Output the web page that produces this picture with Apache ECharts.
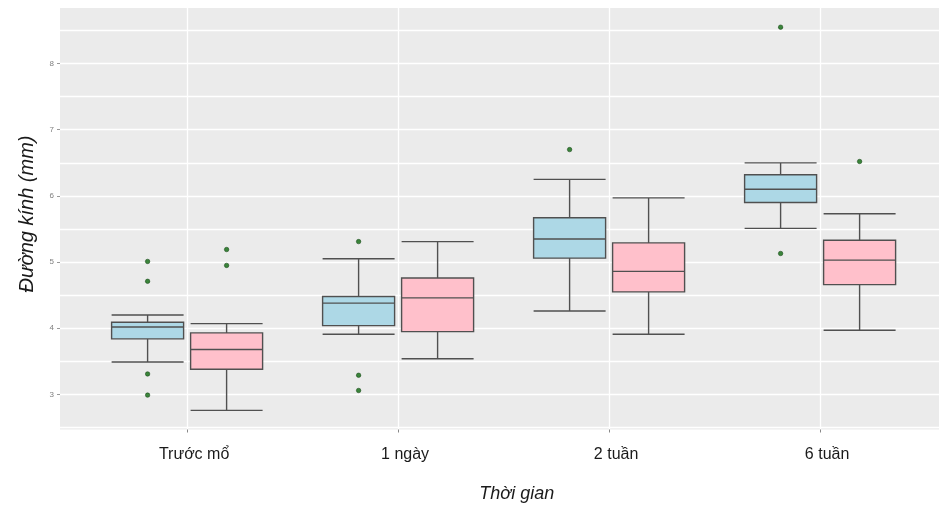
<!DOCTYPE html>
<html>
<head>
<meta charset="utf-8">
<script src="https://cdn.jsdelivr.net/npm/echarts@6/dist/echarts.min.js"></script>
<style>
  html, body { margin: 0; padding: 0; background: #ffffff; }
  #chart { width: 939px; height: 506px; }
</style>
</head>
<body>
<div id="chart"></div>
<script>
// ---- data ----
const categories = ['Trước mổ', '1 ngày', '2 tuần', '6 tuần'];
// [lower whisker, Q1, median, Q3, upper whisker]
const blueBoxes = [
  [3.49, 3.84, 4.02, 4.09, 4.20],
  [3.91, 4.04, 4.38, 4.48, 5.05],
  [4.26, 5.06, 5.35, 5.67, 6.25],
  [5.51, 5.90, 6.10, 6.32, 6.50]
];
const pinkBoxes = [
  [2.76, 3.38, 3.68, 3.93, 4.07],
  [3.54, 3.95, 4.46, 4.76, 5.31],
  [3.91, 4.55, 4.86, 5.29, 5.97],
  [3.97, 4.66, 5.03, 5.33, 5.73]
];
// [category index, value]
const blueOutliers = [
  [0, 5.01], [0, 4.71], [0, 3.31], [0, 2.99],
  [1, 5.31], [1, 3.29], [1, 3.06],
  [2, 6.70],
  [3, 8.55], [3, 5.13]
];
const pinkOutliers = [
  [0, 5.19], [0, 4.95],
  [3, 6.52]
];
const yTickValues = [3, 4, 5, 6, 7, 8];
const xTitle = 'Thời gian';
const yTitle = 'Đường kính (mm)';

// ---- layout ----
const FONT = '"Liberation Sans", Arial, sans-serif';
const W = 939, H = 506;
const PANEL_LEFT = 60, PANEL_TOP = 8, PANEL_BOTTOM = 429.5;
const CAT0 = 187.1, BAND = 211, DODGE = 39.5, BOX_W = 72;

// ggplot-like 5% expansion of the data range
const allVals = [].concat(...blueBoxes, ...pinkBoxes,
  blueOutliers.map(d => d[1]), pinkOutliers.map(d => d[1]));
const dMin = Math.min(...allVals), dMax = Math.max(...allVals);
const Y_MIN = dMin - 0.05 * (dMax - dMin);
const Y_MAX = dMax + 0.05 * (dMax - dMin);
const ppu = (PANEL_BOTTOM - PANEL_TOP) / (Y_MAX - Y_MIN);
const pix = v => PANEL_TOP + (Y_MAX - v) * ppu;

const gridLinesTop = pix(8.5), gridLinesBottom = pix(2.5);
const labTop = pix(yTickValues[yTickValues.length - 1]), labBottom = pix(yTickValues[0]);
const SPAN = BAND * (categories.length - 1);

const hiddenX = (gi) => ({ type: 'category', data: categories, gridIndex: gi, show: false, boundaryGap: false });
const hiddenY = (gi) => ({ type: 'value', min: Y_MIN, max: Y_MAX, gridIndex: gi, show: false });

const option = {
  animation: false,
  backgroundColor: '#ffffff',
  grid: [
    // 0: panel background
    { left: PANEL_LEFT, right: 0, top: PANEL_TOP, bottom: H - PANEL_BOTTOM, show: true,
      backgroundColor: '#EBEBEB', borderWidth: 0 },
    // 1: horizontal grid lines (every 0.5)
    { left: PANEL_LEFT, right: 0, top: gridLinesTop, bottom: H - gridLinesBottom },
    // 2: y tick labels
    { left: PANEL_LEFT, right: 0, top: labTop, bottom: H - labBottom },
    // 3: x labels + vertical grid lines
    { left: CAT0, width: SPAN, top: PANEL_TOP, bottom: H - PANEL_BOTTOM },
    // 4: blue boxes (dodged left)
    { left: CAT0 - DODGE, width: SPAN, top: PANEL_TOP, bottom: H - PANEL_BOTTOM },
    // 5: pink boxes (dodged right)
    { left: CAT0 + DODGE, width: SPAN, top: PANEL_TOP, bottom: H - PANEL_BOTTOM }
  ],
  xAxis: [
    { type: 'value', gridIndex: 0, show: false, min: 0, max: 1 },
    { type: 'value', gridIndex: 1, show: false, min: 0, max: 1 },
    { type: 'value', gridIndex: 2, show: false, min: 0, max: 1 },
    { type: 'category', gridIndex: 3, data: categories, boundaryGap: false,
      axisLine: { show: false },
      axisTick: { show: true, length: 3, lineStyle: { color: '#888888', width: 1 } },
      splitLine: { show: true, lineStyle: { color: '#ffffff', width: 1.3 } },
      axisLabel: { color: '#1a1a1a', fontSize: 16, fontFamily: FONT, margin: 17,
                   padding: [0, 0, 0, 14] } },
    hiddenX(4),
    hiddenX(5)
  ],
  yAxis: [
    { type: 'value', gridIndex: 0, show: false, min: Y_MIN, max: Y_MAX },
    { type: 'value', gridIndex: 1, min: 2.5, max: 8.5, interval: 0.5,
      axisLine: { show: false }, axisTick: { show: false }, axisLabel: { show: false },
      splitLine: { show: true, lineStyle: { color: '#ffffff', width: 1.3 } } },
    { type: 'value', gridIndex: 2, min: yTickValues[0], max: yTickValues[yTickValues.length - 1], interval: 1,
      axisLine: { show: false },
      axisTick: { show: true, length: 3, lineStyle: { color: '#999999', width: 1 } },
      splitLine: { show: false },
      axisLabel: { color: '#808080', fontSize: 8, fontFamily: FONT, margin: 6 } },
    { type: 'value', gridIndex: 3, show: false, min: Y_MIN, max: Y_MAX },
    hiddenY(4),
    hiddenY(5)
  ],
  series: [
    { type: 'boxplot', xAxisIndex: 4, yAxisIndex: 4, data: blueBoxes,
      boxWidth: [BOX_W, BOX_W], silent: true,
      itemStyle: { color: '#ADD8E6', borderColor: '#505050', borderWidth: 1.4 } },
    { type: 'boxplot', xAxisIndex: 5, yAxisIndex: 5, data: pinkBoxes,
      boxWidth: [BOX_W, BOX_W], silent: true,
      itemStyle: { color: '#FFC0CB', borderColor: '#505050', borderWidth: 1.4 } },
    { type: 'scatter', xAxisIndex: 4, yAxisIndex: 4, data: blueOutliers,
      symbolSize: 4.5, silent: true,
      itemStyle: { color: '#0e6a0e', borderColor: '#083808', borderWidth: 0.6 } },
    { type: 'scatter', xAxisIndex: 5, yAxisIndex: 5, data: pinkOutliers,
      symbolSize: 4.5, silent: true,
      itemStyle: { color: '#0e6a0e', borderColor: '#083808', borderWidth: 0.6 } }
  ],
  graphic: [
    { type: 'text', x: 516.7, y: 493.5, silent: true,
      style: { text: xTitle, fill: '#1a1a1a', fontSize: 18, fontStyle: 'italic', fontFamily: FONT,
               align: 'center', verticalAlign: 'middle' } },
    { type: 'text', x: 27.5, y: 214, rotation: Math.PI / 2, silent: true,
      style: { text: yTitle, fill: '#1a1a1a', fontSize: 20, fontStyle: 'italic', fontFamily: FONT,
               align: 'center', verticalAlign: 'middle' } }
  ]
};

const chart = echarts.init(document.getElementById('chart'), null, { renderer: 'canvas' });
chart.setOption(option);
</script>
</body>
</html>
